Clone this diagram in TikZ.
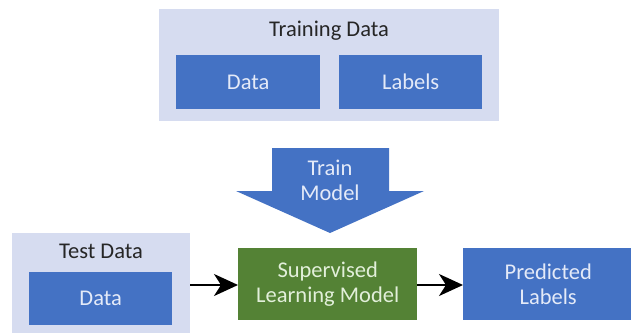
\documentclass[tikz,border=0pt]{standalone}
\usepackage{fontspec}
\setmainfont{Carlito}
\usetikzlibrary{arrows.meta}
\definecolor{lightbox}{HTML}{D6DCF0}
\definecolor{bluebox}{HTML}{4472C4}
\definecolor{greenbox}{HTML}{548235}
\definecolor{darktext}{HTML}{262626}
\definecolor{bluetext}{HTML}{E4EAF8}
\definecolor{greentext}{HTML}{E2EFDA}
\begin{document}
\begin{tikzpicture}[x=1pt,y=-1pt,
  every node/.style={font=\fontsize{22.5}{25}\selectfont},
  rbox/.style={rectangle, inner sep=0pt, anchor=north west, align=center},
  groupbox/.style={rbox, fill=lightbox},
  bluebx/.style={rbox, fill=bluebox, text=bluetext},
  greenbx/.style={rbox, fill=greenbox, text=greentext},
  title/.style={text=darktext, inner sep=0pt},
  flow/.style={draw=black, line width=2pt, -{Stealth[length=24pt, width=22pt, inset=7pt]}}
]
\useasboundingbox (0,0) rectangle (631,332);
\clip (0,0) rectangle (631,332);

% Training data group
\node[groupbox, minimum width=340pt, minimum height=112pt] (train) at (159,9) {};
\node[title] (traintitle) at (329,31) {Training Data};
\node[bluebx, minimum width=144pt, minimum height=54pt] (tdata) at (176,55) {Data};
\node[bluebx, minimum width=143pt, minimum height=54pt] (tlabels) at (339,55) {Labels};

% Train model arrow
\fill[bluebox] (272,148) -- (389,148) -- (389,191) -- (424,191) -- (330,233)
  -- (236,191) -- (272,191) -- cycle;
\node[text=bluetext, align=center, inner sep=0pt] (trainmodel) at (330,180) {Train\\Model};

% Test data group
\node[groupbox, minimum width=178pt, minimum height=110pt] (test) at (12,233) {};
\node[title] (testtitle) at (101,251) {Test Data};
\node[bluebx, minimum width=143pt, minimum height=53pt] (xdata) at (29,272) {Data};

% Model and prediction
\node[greenbx, minimum width=179pt, minimum height=72pt] (model) at (238,248) {Supervised\\Learning Model};
\node[bluebx, minimum width=170pt, minimum height=72pt] (pred) at (463,248) {Predicted\\Labels};

\coordinate (testout) at (190,285);
\draw[flow] (testout) -- (model.west |- testout);
\draw[flow] (model.east |- testout) -- (pred.west |- testout);
\end{tikzpicture}
\end{document}
